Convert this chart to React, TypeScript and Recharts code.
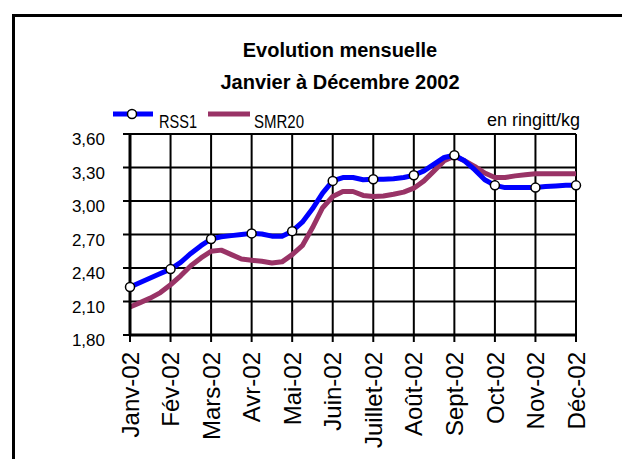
import React from 'react';
import { LineChart, Line, XAxis, YAxis, CartesianGrid, Legend } from 'recharts';

const months = ['Janv-02', 'Fév-02', 'Mars-02', 'Avr-02', 'Mai-02', 'Juin-02', 'Juillet-02', 'Août-02', 'Sept-02', 'Oct-02', 'Nov-02', 'Déc-02'];
const weeksPerMonth = 4;

// weekly values (4 per month), monthly markers on every 4th point
const rss1 = [
  2.23, 2.27, 2.31, 2.35,
  2.39, 2.45, 2.53, 2.60,
  2.66, 2.68, 2.69, 2.70,
  2.71, 2.705, 2.685, 2.685,
  2.73, 2.81, 2.93, 3.07,
  3.18, 3.21, 3.21, 3.19,
  3.195, 3.195, 3.20, 3.21,
  3.23, 3.27, 3.33, 3.39,
  3.41, 3.36, 3.28, 3.19,
  3.14, 3.12, 3.12, 3.12,
  3.12, 3.13, 3.135, 3.14,
  3.14,
];
const smr20 = [
  2.05, 2.09, 2.13, 2.18,
  2.25, 2.33, 2.42, 2.49,
  2.55, 2.56, 2.52, 2.48,
  2.47, 2.46, 2.445, 2.455,
  2.52, 2.60, 2.76, 2.94,
  3.04, 3.085, 3.085, 3.05,
  3.04, 3.045, 3.06, 3.08,
  3.115, 3.18, 3.27, 3.36,
  3.40, 3.36, 3.31, 3.25,
  3.21, 3.21, 3.225, 3.235,
  3.243, 3.243, 3.243, 3.243,
  3.243,
];
const yTicks = [1.8, 2.1, 2.4, 2.7, 3.0, 3.3, 3.6];
const xTicks = months.map((_, i) => i * weeksPerMonth);

const data = rss1.map((v, i) => ({ w: i, RSS1: v, SMR20: smr20[i] }));

const FONT = '"Liberation Sans", Arial, sans-serif';
const BLUE = '#0000FF';
const PURPLE = '#993366';

const fmt = (v: number) => v.toFixed(2).replace('.', ',');

const XTick = (props: any) => {
  const { x, y, payload } = props;
  return (
    <g transform={`translate(${x},${y})`}>
      <text transform="rotate(-90)" x={-8} y={0} dy="0.36em" textAnchor="end" fontSize={24} fill="#000" fontFamily={FONT}>
        {months[Math.round(payload.value / weeksPerMonth)]}
      </text>
    </g>
  );
};

const YTick = (props: any) => {
  const { x, y, payload } = props;
  return (
    <text x={x} y={y + 5} dy="0.355em" textAnchor="end" fontSize={17} fill="#000" fontFamily={FONT}>
      {fmt(payload.value)}
    </text>
  );
};

const MonthDot = (props: any) => {
  const { cx, cy, index } = props;
  if (index % weeksPerMonth !== 0) return <g key={`d${index}`} />;
  return <circle key={`d${index}`} cx={cx} cy={cy} r={4.5} fill="#fff" stroke="#000" strokeWidth={1.5} />;
};

const legendLayout: Record<string, { x1: number; x2: number; tx: number; tl: number; marker: boolean }> = {
  RSS1: { x1: 113, x2: 153, tx: 159, tl: 38, marker: true },
  SMR20: { x1: 208, x2: 250, tx: 254, tl: 50, marker: false },
};

const LegendContent = (props: any) => {
  const payload = props.payload || [];
  return (
    <svg width={622} height={140} style={{ position: 'absolute', left: 0, top: 0, overflow: 'visible' }}>
      {payload.map((p: any) => {
        const name = String(p.value);
        const l = legendLayout[name];
        if (!l) return null;
        return (
          <g key={name}>
            <line x1={l.x1} x2={l.x2} y1={114} y2={114} stroke={p.color} strokeWidth={5} />
            {l.marker && <circle cx={(l.x1 + l.x2) / 2 - 1} cy={114} r={4.5} fill="#fff" stroke="#000" strokeWidth={1.5} />}
            <text x={l.tx} y={128} fontSize={19} textLength={l.tl} lengthAdjust="spacingAndGlyphs" fill="#000" fontFamily={FONT}>
              {name}
            </text>
          </g>
        );
      })}
      <text x={487} y={126} fontSize={18} fill="#000" fontFamily={FONT}>en ringitt/kg</text>
    </svg>
  );
};

export default function App() {
  return (
    <div style={{ position: 'absolute', left: 0, top: 0, width: 622, height: 459, overflow: 'hidden', background: '#fff', fontFamily: FONT }}>
      <div style={{ position: 'absolute', left: 12, top: 14, width: 700, height: 600, border: '3px solid #000' }} />
      <div style={{ position: 'absolute', left: 140, top: 34, width: 400, textAlign: 'center', fontWeight: 'bold', fontSize: 20, lineHeight: '32px', color: '#000' }}>
        <div>Evolution mensuelle</div>
        <div>Janvier à Décembre 2002</div>
      </div>
      <div style={{ position: 'absolute', left: 0, top: 0 }}>
        <LineChart width={622} height={459} data={data} margin={{ top: 134, right: 46, bottom: 24, left: 0 }}>
          <CartesianGrid stroke="#000" strokeWidth={2} horizontal vertical />
          <XAxis
            dataKey="w"
            type="number"
            domain={[0, 44]}
            ticks={xTicks}
            interval={0}
            height={100}
            tickSize={7}
            tickMargin={2}
            axisLine={{ stroke: '#000', strokeWidth: 3 }}
            tickLine={{ stroke: '#000', strokeWidth: 2 }}
            tick={<XTick />}
          />
          <YAxis
            type="number"
            domain={[1.8, 3.6]}
            ticks={yTicks}
            interval={0}
            width={130}
            tickSize={7}
            tickMargin={18}
            axisLine={{ stroke: '#000', strokeWidth: 3 }}
            tickLine={{ stroke: '#000', strokeWidth: 2 }}
            tick={<YTick />}
          />
          <Legend
            content={<LegendContent />}
            wrapperStyle={{ position: 'absolute', left: 0, top: 0, width: 0, height: 0, overflow: 'visible' }}
          />
          <Line dataKey="SMR20" stroke={PURPLE} strokeWidth={5} dot={false} activeDot={false} isAnimationActive={false} strokeLinejoin="round" />
          <Line dataKey="RSS1" stroke={BLUE} strokeWidth={5} dot={<MonthDot />} activeDot={false} isAnimationActive={false} strokeLinejoin="round" />
        </LineChart>
      </div>
    </div>
  );
}
